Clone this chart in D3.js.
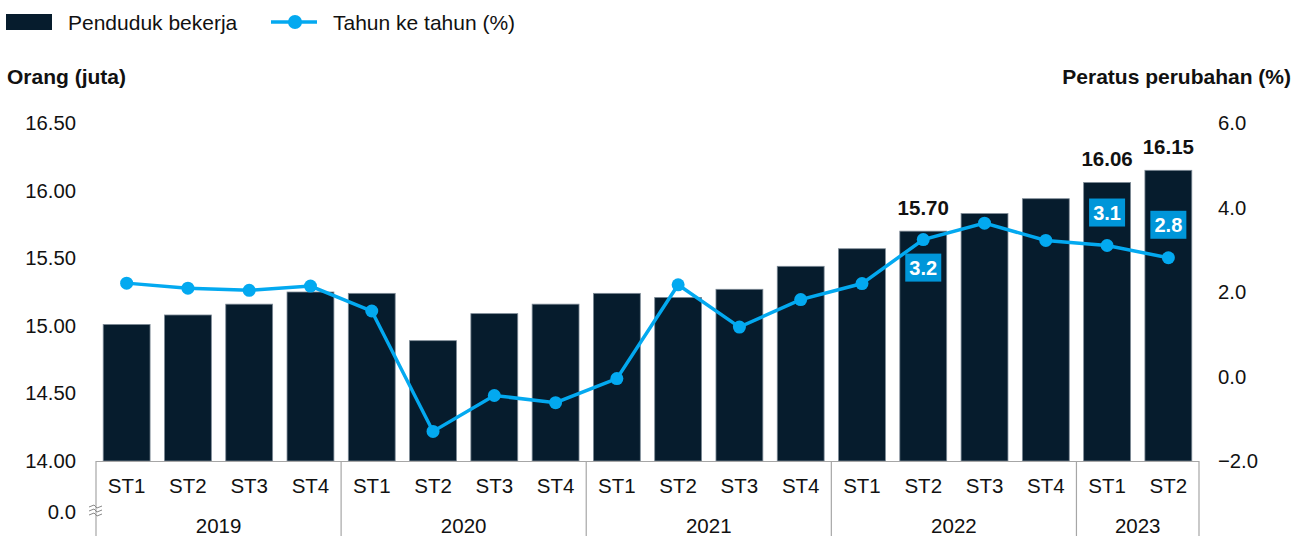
<!DOCTYPE html>
<html>
<head>
<meta charset="utf-8">
<script src="https://cdn.jsdelivr.net/npm/d3@7"></script>
<style>
  body { margin: 0; background: #fff; }
  text { font-family: "Liberation Sans", Arial, sans-serif; fill: #111; }
</style>
</head>
<body>
<svg id="chart" width="1305" height="536"></svg>
<script>
const years = ["2019", "2020", "2021", "2022", "2023"];
const quartersPerYear = [4, 4, 4, 4, 2];
const quarters = ["ST1", "ST2", "ST3", "ST4", "ST1", "ST2", "ST3", "ST4", "ST1", "ST2",
    "ST3", "ST4", "ST1", "ST2", "ST3", "ST4", "ST1", "ST2"];
const employed = [15.01, 15.08, 15.16, 15.25, 15.24, 14.89, 15.09, 15.16, 15.24, 15.21,
    15.27, 15.44, 15.57, 15.70, 15.83, 15.94, 16.06, 16.15];
const yoyChange = [2.21, 2.09, 2.04, 2.14, 1.55, -1.30, -0.45, -0.62, -0.05, 2.17,
    1.17, 1.82, 2.20, 3.24, 3.63, 3.22, 3.10, 2.81];
const leftTicks = [14.0, 14.5, 15.0, 15.5, 16.0, 16.5];
const rightTicks = [-2, 0, 2, 4, 6];
const barLabelIdx = [13, 16, 17];
const yoyLabelIdx = [13, 16, 17];
const yoyLabelSide = ["below", "above", "above"];

const barColor = "#061c2d";
const lineColor = "#03a9f0";
const boxColor = "#0096d9";
const axisColor = "#a6a6a6";

const svg = d3.select("#chart");
const plotLeft = 96, plotRight = 1199, plotTop = 123, plotBottom = 461;

const x = d3.scaleBand()
    .domain(d3.range(quarters.length))
    .range([plotLeft, plotRight])
    .paddingInner(0.235)
    .paddingOuter(0.1175);
const yL = d3.scaleLinear().domain([14, 16.5]).range([plotBottom, plotTop]);
const yR = d3.scaleLinear().domain([-2, 6]).range([plotBottom, plotTop]);

// legend
const legend = svg.append("g");
legend.append("rect").attr("x", 6).attr("y", 14).attr("width", 46).attr("height", 16).attr("fill", barColor);
legend.append("text").attr("x", 68).attr("y", 29.5).style("font-size", "21px").text("Penduduk bekerja");
legend.append("line").attr("x1", 271).attr("x2", 317).attr("y1", 22).attr("y2", 22)
    .attr("stroke", lineColor).attr("stroke-width", 3.5);
legend.append("circle").attr("cx", 295).attr("cy", 22).attr("r", 7).attr("fill", lineColor);
legend.append("text").attr("x", 333).attr("y", 29.5).style("font-size", "21px").text("Tahun ke tahun (%)");

// axis titles
svg.append("text").attr("x", 7).attr("y", 84).style("font-size", "21px").style("font-weight", "bold")
    .text("Orang (juta)");
svg.append("text").attr("x", 1291).attr("y", 84).attr("text-anchor", "end")
    .style("font-size", "21px").style("font-weight", "bold").text("Peratus perubahan (%)");

// left axis
const gL = svg.append("g").attr("transform", `translate(${plotLeft},0)`)
    .call(d3.axisLeft(yL).tickValues(leftTicks).tickFormat(d3.format(".2f")).tickSize(0).tickPadding(20));
gL.select(".domain").remove();
gL.selectAll("text").style("font-size", "20.3px").style("font-family", "Liberation Sans, Arial, sans-serif").attr("fill", "#111");

// right axis
const gR = svg.append("g").attr("transform", `translate(${plotRight},0)`)
    .call(d3.axisRight(yR).tickValues(rightTicks).tickFormat(d3.format(".1f")).tickSize(0).tickPadding(19));
gR.select(".domain").remove();
gR.selectAll("text").style("font-size", "20.3px").style("font-family", "Liberation Sans, Arial, sans-serif").attr("fill", "#111");

// bars
svg.append("g").selectAll("rect")
    .data(employed)
    .join("rect")
    .attr("x", (d, i) => x(i))
    .attr("y", (d) => yL(d))
    .attr("width", x.bandwidth())
    .attr("height", (d) => plotBottom - yL(d))
    .attr("fill", barColor)
    .attr("stroke", "#7d8a96")
    .attr("stroke-width", 0.8);

// category axis: boxes
const axisG = svg.append("g");
axisG.append("line").attr("x1", plotLeft).attr("x2", plotRight).attr("y1", plotBottom + 0.5).attr("y2", plotBottom + 0.5)
    .attr("stroke", axisColor).attr("stroke-width", 1.2);
let start = 0;
const bounds = [0];
quartersPerYear.forEach((n) => { start += n; bounds.push(start); });
const boundX = (d) => d === quarters.length ? plotRight : x(d) - x.step() * x.paddingInner() / 2;
axisG.selectAll("line.sep")
    .data(bounds)
    .join("line")
    .attr("class", "sep")
    .attr("x1", boundX)
    .attr("x2", boundX)
    .attr("y1", plotBottom)
    .attr("y2", 536)
    .attr("stroke", axisColor)
    .attr("stroke-width", 1.2);

axisG.selectAll("text.q")
    .data(quarters)
    .join("text")
    .attr("class", "q")
    .attr("x", (d, i) => x(i) + x.bandwidth() / 2)
    .attr("y", 493)
    .attr("text-anchor", "middle")
    .style("font-size", "20.5px")
    .text((d) => d);

axisG.selectAll("text.yr")
    .data(years)
    .join("text")
    .attr("class", "yr")
    .attr("x", (d, i) => {
        const a = x(bounds[i]) + x.bandwidth() / 2;
        const b = x(bounds[i + 1] - 1) + x.bandwidth() / 2;
        return (a + b) / 2;
    })
    .attr("y", 533)
    .attr("text-anchor", "middle")
    .style("font-size", "20.5px")
    .text((d) => d);

// zero label with axis break
svg.append("text").attr("x", 76).attr("y", 519).attr("text-anchor", "end")
    .style("font-size", "20.3px").text("0.0");
svg.append("path")
    .attr("d", "M89,507 L94,505 L97,508 L102,506 M89,511 L94,509 L97,512 L102,510 M89,515 L94,513 L97,516 L102,514")
    .attr("fill", "none").attr("stroke", "#888").attr("stroke-width", 1);

// line
const line = d3.line()
    .x((d, i) => x(i) + x.bandwidth() / 2)
    .y((d) => yR(d));
svg.append("path")
    .datum(yoyChange)
    .attr("d", line)
    .attr("fill", "none")
    .attr("stroke", lineColor)
    .attr("stroke-width", 3.5);
svg.append("g").selectAll("circle")
    .data(yoyChange)
    .join("circle")
    .attr("cx", (d, i) => x(i) + x.bandwidth() / 2)
    .attr("cy", (d) => yR(d))
    .attr("r", 6.5)
    .attr("fill", lineColor);

// bar value labels
svg.append("g").selectAll("text")
    .data(barLabelIdx)
    .join("text")
    .attr("x", (i) => x(i) + x.bandwidth() / 2)
    .attr("y", (i) => yL(employed[i]) - 16)
    .attr("text-anchor", "middle")
    .style("font-size", "20.5px")
    .style("font-weight", "bold")
    .text((i) => employed[i].toFixed(2));

// yoy labels in boxes
const boxes = svg.append("g").selectAll("g")
    .data(yoyLabelIdx)
    .join("g")
    .attr("transform", (i, k) => {
        const cx = x(i) + x.bandwidth() / 2;
        const cy = yR(yoyChange[i]) + (yoyLabelSide[k] === "below" ? 28 : -33);
        return `translate(${cx},${cy})`;
    });
boxes.append("rect")
    .attr("x", -18).attr("y", -14).attr("width", 36).attr("height", 28)
    .attr("fill", boxColor);
boxes.append("text")
    .attr("y", 7)
    .attr("text-anchor", "middle")
    .style("font-size", "20px")
    .style("font-weight", "bold")
    .style("fill", "#fff")
    .text((i) => yoyChange[i].toFixed(1));
</script>
</body>
</html>
